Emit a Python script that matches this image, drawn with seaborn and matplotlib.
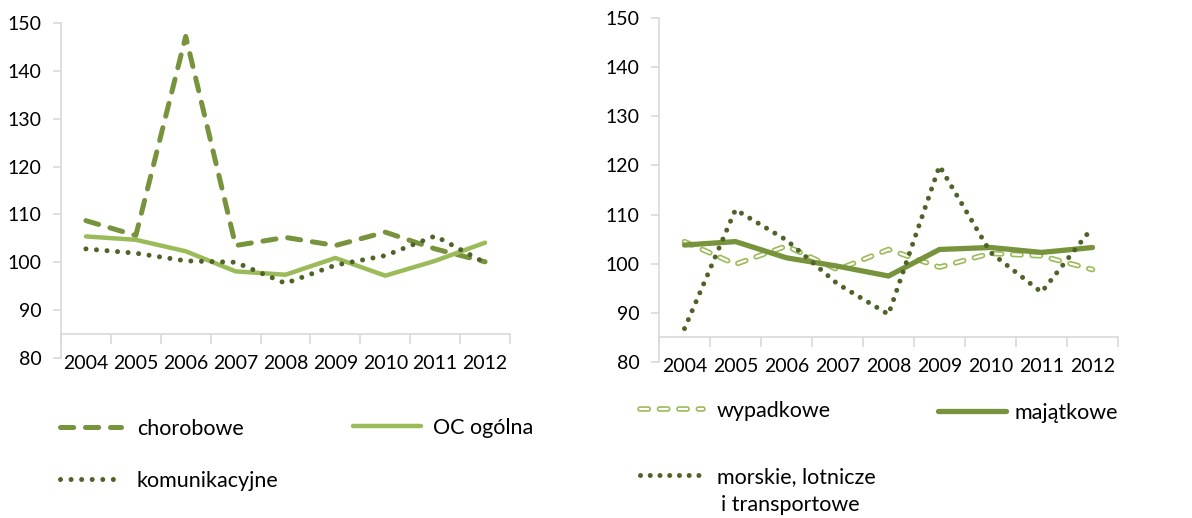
import numpy as np
import pandas as pd
import matplotlib
matplotlib.use("Agg")
import matplotlib.pyplot as plt
import matplotlib.legend_handler
from matplotlib.lines import Line2D
import seaborn as sns

years = [2004, 2005, 2006, 2007, 2008, 2009, 2010, 2011, 2012]

chorobowe = [108.7, 105.6, 147.2, 103.5, 105.2, 103.5, 106.3, 102.8, 100.1]
oc_ogolna = [105.4, 104.7, 102.3, 98.1, 97.4, 100.9, 97.2, 100.3, 104.1]
komunikacyjne = [102.8, 101.9, 100.3, 100.0, 95.6, 99.4, 101.4, 105.5, 99.9]

wypadkowe = [104.5, 99.9, 103.6, 98.8, 102.9, 99.3, 102.1, 101.6, 98.8]
majatkowe = [103.8, 104.5, 101.2, 99.5, 97.5, 102.9, 103.3, 102.3, 103.3]
morskie = [86.8, 111.0, 104.8, 95.9, 89.7, 119.9, 102.3, 94.2, 107.4]

yticks = [80, 90, 100, 110, 120, 130, 140, 150]

C_MID = "#77933C"
C_LIGHT = "#9BBB59"
C_DARK = "#4F6228"
C_AX = "#D9D9D9"
C_TXT = "#000000"

sns.set_style("white")
plt.rcParams["font.family"] = ["Lato", "DejaVu Sans"]
plt.rcParams["lines.scale_dashes"] = False

fig = plt.figure(figsize=(11.92, 5.18), dpi=100)
W, H = 1192, 518

def mk_ax(x0, x1, ytop, ybot):
    return fig.add_axes([x0 / W, (H - ybot) / H, (x1 - x0) / W, (ybot - ytop) / H])

axL = mk_ax(61, 510, 23, 358)
axR = mk_ax(659, 1118, 18, 362)

STY = {
    "dash": dict(color=C_MID, linewidth=3.6, linestyle=(0, (9.5, 8.5)), dash_capstyle="round"),
    "solid_light": dict(color=C_LIGHT, linewidth=3.2, linestyle="-", solid_capstyle="round", solid_joinstyle="round"),
    "dot": dict(color=C_DARK, linewidth=3.6, linestyle=(0, (0.01, 7.6)), dash_capstyle="round"),
    "solid_mid": dict(color=C_MID, linewidth=3.8, linestyle="-", solid_capstyle="round", solid_joinstyle="round"),
    "open_out": dict(color=C_LIGHT, linewidth=4.0, linestyle=(0, (6.0, 8.0)), dash_capstyle="round"),
    "open_in": dict(color="white", linewidth=1.6, linestyle=(0, (6.0, 8.0)), dash_capstyle="round"),
    "dot2": dict(color=C_DARK, linewidth=3.6, linestyle=(0, (0.01, 7.0)), dash_capstyle="round"),
}

def draw(ax, vals, key):
    df = pd.DataFrame({"rok": years, "v": vals})
    sns.lineplot(data=df, x="rok", y="v", ax=ax, **STY[key])

draw(axL, chorobowe, "dash")
draw(axL, oc_ogolna, "solid_light")
draw(axL, komunikacyjne, "dot")

draw(axR, wypadkowe, "open_out")
draw(axR, wypadkowe, "open_in")
draw(axR, majatkowe, "solid_mid")
draw(axR, morskie, "dot2")

TICK_FS = 14
for ax in (axL, axR):
    ax.set_xlim(years[0] - 0.5, years[-1] + 0.5)
    ax.set_ylim(80, 150)
    ax.set_yticks(yticks)
    ax.set_yticklabels([str(t) for t in yticks])
    ax.set_xticks(years)
    ax.set_xticklabels([str(y) for y in years])
    ax.set_xticks([y - 0.5 for y in years] + [years[-1] + 0.5], minor=True)
    ax.set_xlabel("")
    ax.set_ylabel("")
    for s in ("top", "right"):
        ax.spines[s].set_visible(False)
    ax.spines["left"].set_color(C_AX)
    ax.spines["bottom"].set_color(C_AX)
    ax.spines["left"].set_linewidth(1.2)
    ax.spines["bottom"].set_linewidth(1.2)
    ax.spines["bottom"].set_position(("data", 85))
    ax.tick_params(axis="y", which="major", direction="out", length=6, width=1.2,
                   color=C_AX, labelsize=TICK_FS, labelcolor=C_TXT, pad=8, left=True)
    ax.tick_params(axis="x", which="major", length=0, labelsize=TICK_FS, labelcolor=C_TXT, pad=15, bottom=True)
    ax.tick_params(axis="x", which="minor", direction="out", length=7, width=1.2, color=C_AX, bottom=True)
    ax.grid(False)
    ax.patch.set_alpha(0)

LEG_FS = 15.5
FS_PX = LEG_FS * 100 / 72.0

def legend_entry(keys, label, x0, x1, y, xt):
    handles = [Line2D([0], [0], **STY[k]) for k in keys]
    h = tuple(handles) if len(handles) > 1 else handles[0]
    fig.legend(handles=[h], labels=[label],
               loc="center left", bbox_to_anchor=(x0 / W, 1 - y / H),
               frameon=False, fontsize=LEG_FS,
               handlelength=(x1 - x0) / FS_PX, handletextpad=(xt - x1) / FS_PX,
               borderpad=0, borderaxespad=0, labelcolor=C_TXT,
               handler_map={tuple: matplotlib.legend_handler.HandlerTuple(ndivide=1, pad=0)})

legend_entry(["dash"], "chorobowe", 60, 121, 429, 137)
legend_entry(["solid_light"], "OC ogólna", 353, 421, 428, 433)
legend_entry(["dot"], "komunikacyjne", 60, 121, 481, 137)
legend_entry(["open_out", "open_in"], "wypadkowe", 640, 703, 411, 717)
legend_entry(["solid_mid"], "majątkowe", 938, 1006, 413, 1014)
legend_entry(["dot2"], "morskie, lotnicze", 640, 703, 477, 717)
fig.text(721 / W, 1 - 505 / H, "i transportowe", fontsize=LEG_FS, color=C_TXT, va="center", ha="left")

fig.savefig("out.png", dpi=100)
